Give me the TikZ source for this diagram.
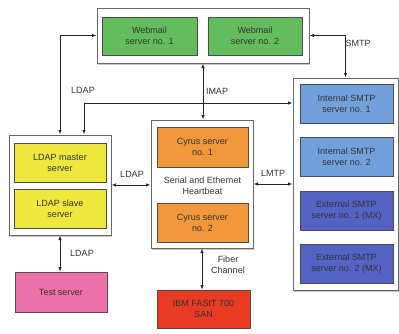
\documentclass[tikz,border=0pt]{standalone}
\usepackage{fontspec}
\setmainfont{Liberation Sans}
\usetikzlibrary{positioning,arrows.meta,shadows}

\definecolor{webgreen}{RGB}{100,189,92}
\definecolor{ldapyellow}{RGB}{236,232,62}
\definecolor{cyrorange}{RGB}{241,152,58}
\definecolor{testpink}{RGB}{238,114,170}
\definecolor{sanred}{RGB}{233,58,36}
\definecolor{intblue}{RGB}{114,160,220}
\definecolor{extblue}{RGB}{84,98,196}

\begin{document}
\begin{tikzpicture}[
    x=1pt, y=-1pt,
    font=\fontsize{9}{11}\selectfont,
    group/.style={rectangle, draw=black!60, line width=1pt, fill=white, inner sep=0pt,
        drop shadow={shadow xshift=1.2pt, shadow yshift=-1.5pt, fill=black!45}},
    server/.style={rectangle, draw=black!70, line width=0.8pt, text=black!80, align=center,
        inner sep=0pt, minimum width=92pt, minimum height=39pt},
    link/.style={{Latex[length=4.5pt,width=3.5pt]}-{Latex[length=4.5pt,width=3.5pt]}, line width=0.8pt, black!85},
    lbl/.style={text=black!80, align=center, inner sep=0pt}
]
\useasboundingbox (0,0) rectangle (399,333);

% Groups
\node[group, minimum width=212pt, minimum height=55pt] (webgroup) at (203,35.5) {};
\node[group, minimum width=102pt, minimum height=100pt] (ldapgroup) at (60,185) {};
\node[group, minimum width=102pt, minimum height=128pt] (cyrgroup) at (202,184) {};
\node[group, minimum width=105pt, minimum height=212pt] (smtpgroup) at (345.5,184) {};

% Webmail
\node[server, fill=webgreen, minimum width=95pt, minimum height=38pt] (web1) at (149.5,36) {Webmail\\server no. 1};
\node[server, fill=webgreen, minimum width=94pt, minimum height=38pt] (web2) at (255,36) {Webmail\\server no. 2};

% LDAP
\node[server, fill=ldapyellow] (master) at (60,162.5) {LDAP master\\server};
\node[server, fill=ldapyellow] (slave) at (60,208.5) {LDAP slave\\server};
\node[server, fill=testpink, minimum height=40pt] (test) at (61,292) {Test server};

% Cyrus
\node[server, fill=cyrorange, minimum width=91pt, minimum height=40pt] (cyr1) at (202.5,147) {Cyrus server\\no. 1};
\node[lbl] (heartbeat) at (202.5,186) {Serial and Ethernet\\Heartbeat};
\node[server, fill=cyrorange, minimum width=91pt] (cyr2) at (202.5,222.5) {Cyrus server\\no. 2};
\node[server, fill=sanred, minimum width=93pt, minimum height=38pt] (san) at (203.5,309) {IBM FAStT 700\\SAN};

% SMTP
\node[server, fill=intblue, minimum width=93pt] (int1) at (346.5,103.5) {Internal SMTP\\server no. 1};
\node[server, fill=intblue, minimum width=93pt] (int2) at (346.5,156.5) {Internal SMTP\\server no. 2};
\node[server, fill=extblue, minimum width=93pt] (ext1) at (346.5,210.5) {External SMTP\\server no. 1 (MX)};
\node[server, fill=extblue, minimum width=93pt] (ext2) at (346.5,263.5) {External SMTP\\server no. 2 (MX)};

% Connections
\coordinate (ldapbend) at (84,103);
\draw[link] (webgroup.west) -| (ldapgroup.north);
\draw[link] (smtpgroup.west |- ldapbend) -| (ldapgroup.north -| ldapbend);
\draw[link] (webgroup.south) -- (webgroup.south |- cyrgroup.north);
\draw[link] (webgroup.east) -| (smtpgroup.north);
\draw[link] (ldapgroup.east) -- (ldapgroup.east -| cyrgroup.west);
\draw[link] (cyrgroup.east) -- (cyrgroup.east -| smtpgroup.west);
\draw[link] (ldapgroup.south) -- (ldapgroup.south |- test.north);
\draw[link] (cyrgroup.south) -- (cyrgroup.south |- san.north);

% Labels
\node[lbl] (ldaplbl1) at (83,90) {LDAP};
\node[lbl] (imaplbl) at (217,91) {IMAP};
\node[lbl] (smtplbl) at (358,43) {SMTP};
\node[lbl] (ldaplbl2) at (132,174) {LDAP};
\node[lbl] (lmtplbl) at (273,173) {LMTP};
\node[lbl] (ldaplbl3) at (82,253) {LDAP};
\node[lbl] (fiberlbl) at (228,265) {Fiber\\Channel};

\end{tikzpicture}
\end{document}
